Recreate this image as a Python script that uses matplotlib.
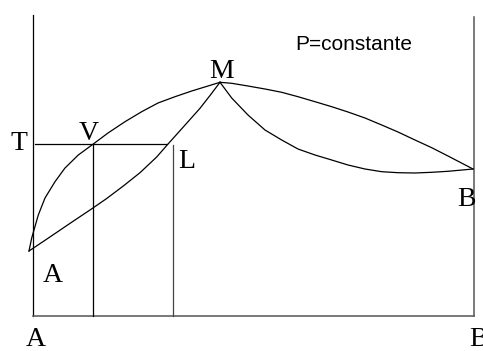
import matplotlib.pyplot as plt

# Temperature-composition diagram at constant pressure (maximum azeotrope M)
# values, in pixel units of the original sketch

# dew curve (vapour), A side up to M
dew_left_x = [29, 31.7, 38.3, 45, 55, 65, 78.3, 93.3, 108, 125, 141.7, 158, 175, 191.7, 208, 220]
dew_left_y = [251, 238, 215, 198, 181.7, 168, 155, 144, 133, 121.7, 111.7, 103, 96.7, 91, 86, 82.3]

# bubble curve (liquid), A side up to M
bubble_left_x = [29, 45, 58, 75, 90, 106.7, 123.3, 140, 156.7, 166.7, 183.3, 200, 210, 220]
bubble_left_y = [251, 240.3, 231.5, 220, 210, 198.5, 186, 172.7, 157, 145.5, 127, 108.3, 95.5, 82.3]

# dew curve, M down to B
dew_right_x = [220, 231.7, 248, 265, 281.7, 298, 315, 331.7, 348, 365, 381.7, 398, 415, 431.7, 448, 473]
dew_right_y = [82.3, 83.3, 86, 89, 92.3, 96.7, 101.7, 106.7, 112, 118, 125, 132, 140, 147.7, 156, 169]

# bubble curve, M down to B
bubble_right_x = [220, 231.7, 248, 265, 281.7, 298, 315, 331.7, 348, 365, 381.7, 398, 415, 431.7, 448, 473]
bubble_right_y = [82.3, 98, 115, 130, 140, 149, 155, 160, 165, 169, 171.7, 172.7, 173, 172.3, 171.3, 169]

# frame of the diagram
x_left, x_right = 33, 474
y_bottom, y_top_left, y_top_right = 316, 15, 17

# tie line at temperature T and compositions of V and L
y_T = 143.8
tie_x = [35, 167]
x_V = 93.3
x_L = 173
y_L_top = 145

fig = plt.figure(figsize=(4.83, 3.51), dpi=100)
ax = fig.add_axes([0, 0, 1, 1])
ax.set_xlim(0, 483)
ax.set_ylim(351, 0)
ax.axis('off')

lw = 0.9
# axes of the diagram
ax.plot([x_left, x_left], [y_top_left, y_bottom], color='black', lw=lw)
ax.plot([x_right, x_right], [y_top_right, y_bottom], color='#555555', lw=1.1)
ax.plot([x_left, x_right], [y_bottom, y_bottom], color='#555555', lw=1.1)

# the curves
for xs, ys in [(dew_left_x, dew_left_y), (bubble_left_x, bubble_left_y),
               (dew_right_x, dew_right_y), (bubble_right_x, bubble_right_y)]:
    ax.plot(xs, ys, color='black', lw=lw, solid_joinstyle='round')

# tie line and the two compositions
ax.plot(tie_x, [y_T, y_T], color='black', lw=lw)
ax.plot([x_V, x_V], [y_T, y_bottom], color='black', lw=lw)
ax.plot([x_L, x_L], [y_L_top, y_bottom], color='#444444', lw=lw)

serif = dict(family='Liberation Serif', fontsize=20, ha='center', va='center')
ax.text(222, 71, 'M', **serif)
ax.text(19, 144, 'T', **serif)
ax.text(89, 134, 'V', **serif)
ax.text(187, 162, 'L', **serif)
ax.text(466, 199, 'B', **serif)
ax.text(53, 276, 'A', **serif)
ax.text(36, 340, 'A', **serif)
ax.text(478, 340, 'B', **serif)

ax.text(354, 45, 'P=constante', family='Liberation Sans', fontsize=15,
        ha='center', va='center')

fig.savefig('out.png', dpi=100)
